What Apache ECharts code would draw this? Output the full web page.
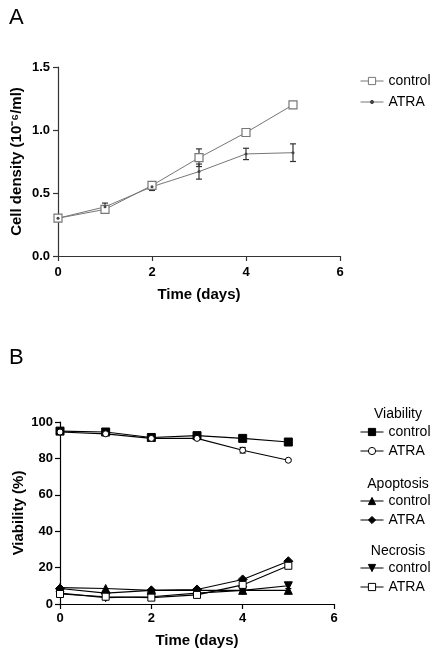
<!DOCTYPE html>
<html><head><meta charset="utf-8">
<script src="https://cdn.jsdelivr.net/npm/echarts@6/dist/echarts.min.js"></script>
<style>html,body{margin:0;padding:0;background:#fff}#c{width:442px;height:652px}</style>
</head><body><div id="c"></div>
<script>
// ---- Panel A data ----
const daysA = [0, 1, 2, 3, 4, 5];
const densityControl = [0.30, 0.37, 0.56, 0.78, 0.98, 1.20];
const densityControlErr = [0.01, 0.015, 0.02, 0.07, 0.02, 0.01];
const densityATRA = [0.30, 0.39, 0.55, 0.67, 0.81, 0.82];
const densityATRAErr = [0.01, 0.03, 0.03, 0.06, 0.045, 0.07];
const ticksA = [0, 0.5, 1.0, 1.5];

// ---- Panel B data ----
const daysB = [0, 1, 2, 3, 4, 5];
const viabControl = [95, 94.5, 91.5, 92.5, 91, 89];
const viabATRA = [94.5, 93.5, 91, 91, 84.5, 79];
const viabATRAErr = [0.5, 0.5, 0.5, 0.5, 1.5, 0.5];
const apopControl = [9, 8.5, 7.5, 7.5, 7.5, 7.5];
const apopATRA = [8.5, 6, 7.5, 8, 13.5, 23.5];
const necrControl = [6, 3.5, 4, 6, 7.5, 10];
const necrControlErr = [0.5, 1, 1, 0.5, 0.5, 1.5];
const necrATRA = [5.5, 4, 3.5, 5, 10.5, 21];

const pts = (xs, ys) => xs.map((x, i) => [x, ys[i]]);
const errs = (xs, ys, es) => xs.map((x, i) => [x, ys[i] - es[i], ys[i] + es[i]]);

function errSeries(data, xi, yi, color) {
  return {
    type: 'custom', xAxisIndex: xi, yAxisIndex: yi, silent: true, z: 1,
    data: data,
    renderItem: function (params, api) {
      const lo = api.coord([api.value(0), api.value(1)]);
      const hi = api.coord([api.value(0), api.value(2)]);
      const w = 3;
      const st = { stroke: color, lineWidth: 1.2 };
      return { type: 'group', children: [
        { type: 'line', shape: { x1: lo[0], y1: lo[1], x2: hi[0], y2: hi[1] }, style: st },
        { type: 'line', shape: { x1: lo[0] - w, y1: lo[1], x2: lo[0] + w, y2: lo[1] }, style: st },
        { type: 'line', shape: { x1: hi[0] - w, y1: hi[1], x2: hi[0] + w, y2: hi[1] }, style: st }
      ]};
    }
  };
}

const FONT = 'Liberation Sans, Arial, sans-serif';
const gA = '#777';
const gAxisA = '#333';

function xAxisCfg(gi, color, margin, gap) {
  return {
    type: 'value', gridIndex: gi, min: 0, max: 6, interval: 2,
    name: 'Time (days)', nameLocation: 'middle', nameGap: gap,
    nameTextStyle: { fontFamily: FONT, fontWeight: 'bold', fontSize: 15, color: '#000' },
    axisLine: { lineStyle: { color: color, width: 1.2 } },
    axisTick: { show: true, length: 5, lineStyle: { color: color, width: 1.2 } },
    axisLabel: { fontFamily: FONT, fontWeight: 'bold', fontSize: 13, color: '#000', margin: margin },
    splitLine: { show: false }
  };
}

function legendCfg(names, top, itemHeight) {
  return { data: names, orient: 'vertical', left: 355, top: top, itemGap: 5, itemWidth: 23, itemHeight: itemHeight,
    formatter: n => n.split(' ')[1],
    lineStyle: { width: 1 }, itemStyle: { borderWidth: 1 },
    textStyle: { fontFamily: FONT, fontSize: 14, color: '#000' } };
}

const lineCommon = { type: 'line', showSymbol: true, z: 3 };
const headStyle = { fontFamily: FONT, fontWeight: 'normal', fontSize: 14, color: '#000' };

const option = {
  animation: false,
  backgroundColor: '#fff',
  textStyle: { fontFamily: FONT },
  title: [
    { text: 'A', left: 4, top: 2, textStyle: { fontFamily: FONT, fontWeight: 'normal', fontSize: 22, color: '#000' } },
    { text: 'B', left: 4, top: 342, textStyle: { fontFamily: FONT, fontWeight: 'normal', fontSize: 22, color: '#000' } },
    { text: 'Viability', left: 393, top: 402, textAlign: 'center', textStyle: headStyle },
    { text: 'Apoptosis', left: 393, top: 472, textAlign: 'center', textStyle: headStyle },
    { text: 'Necrosis', left: 393, top: 539, textAlign: 'center', textStyle: headStyle }
  ],
  legend: [
    legendCfg(['A control'], 69, 9),
    legendCfg(['A ATRA'], 90, 4),
    legendCfg(['Viability control', 'Viability ATRA'], 420, 9),
    legendCfg(['Apoptosis control', 'Apoptosis ATRA'], 489, 9),
    legendCfg(['Necrosis control', 'Necrosis ATRA'], 556, 9)
  ],
  grid: [
    { left: 58, top: 67, width: 282, height: 189, outerBoundsMode: 'none', containLabel: false },
    { left: 60, top: 422, width: 274, height: 182, outerBoundsMode: 'none', containLabel: false }
  ],
  xAxis: [ xAxisCfg(0, gAxisA, 10, 31), xAxisCfg(1, '#000', 8, 29) ],
  yAxis: [
    { type: 'value', gridIndex: 0, min: 0, max: 1.5, interval: 0.5,
      name: 'Cell density (10\u207B\u2076/ml)', nameLocation: 'middle', nameGap: 34, nameMoveOverlap: false,
      nameTextStyle: { fontFamily: FONT, fontWeight: 'bold', fontSize: 15, color: '#000' },
      axisLine: { show: true, lineStyle: { color: gAxisA, width: 1.2 } },
      axisTick: { show: true, length: 5, lineStyle: { color: gAxisA, width: 1.2 } },
      axisLabel: { fontFamily: FONT, fontWeight: 'bold', fontSize: 13, color: '#000', margin: 8, formatter: v => v.toFixed(1) },
      splitLine: { show: false } },
    { type: 'value', gridIndex: 1, min: 0, max: 100, interval: 20,
      name: 'Viability (%)', nameLocation: 'middle', nameGap: 34, nameMoveOverlap: false,
      nameTextStyle: { fontFamily: FONT, fontWeight: 'bold', fontSize: 15, color: '#000' },
      axisLine: { show: true, lineStyle: { color: '#000', width: 1.2 } },
      axisTick: { show: true, length: 5, lineStyle: { color: '#000', width: 1.2 } },
      axisLabel: { fontFamily: FONT, fontWeight: 'bold', fontSize: 13, color: '#000', margin: 7 },
      splitLine: { show: false } }
  ],
  series: [
    errSeries(errs(daysA, densityControl, densityControlErr), 0, 0, '#333'),
    errSeries(errs(daysA, densityATRA, densityATRAErr), 0, 0, '#333'),
    Object.assign({}, lineCommon, { name: 'A control', xAxisIndex: 0, yAxisIndex: 0, data: pts(daysA, densityControl),
      symbol: 'rect', symbolSize: 8, itemStyle: { color: '#fff', borderColor: gA, borderWidth: 1.2 },
      lineStyle: { color: gA, width: 1 } }),
    Object.assign({}, lineCommon, { name: 'A ATRA', xAxisIndex: 0, yAxisIndex: 0, data: pts(daysA, densityATRA),
      symbol: 'circle', symbolSize: 3, itemStyle: { color: '#444', borderColor: '#444', borderWidth: 0 },
      lineStyle: { color: gA, width: 1 } }),

    errSeries(errs(daysB, viabATRA, viabATRAErr), 1, 1, '#000'),
    errSeries(errs(daysB, necrControl, necrControlErr), 1, 1, '#000'),
    Object.assign({}, lineCommon, { name: 'Viability control', xAxisIndex: 1, yAxisIndex: 1, data: pts(daysB, viabControl),
      symbol: 'rect', symbolSize: 8, itemStyle: { color: '#000', borderColor: '#000' }, lineStyle: { color: '#000', width: 1.1 } }),
    Object.assign({}, lineCommon, { name: 'Viability ATRA', xAxisIndex: 1, yAxisIndex: 1, data: pts(daysB, viabATRA),
      symbol: 'circle', symbolSize: 6, itemStyle: { color: '#fff', borderColor: '#000', borderWidth: 1 }, lineStyle: { color: '#000', width: 1.1 } }),
    Object.assign({}, lineCommon, { name: 'Apoptosis control', xAxisIndex: 1, yAxisIndex: 1, data: pts(daysB, apopControl),
      symbol: 'triangle', symbolSize: 8, itemStyle: { color: '#000', borderColor: '#000' }, lineStyle: { color: '#000', width: 1.1 } }),
    Object.assign({}, lineCommon, { name: 'Apoptosis ATRA', xAxisIndex: 1, yAxisIndex: 1, data: pts(daysB, apopATRA),
      symbol: 'diamond', symbolSize: 9, itemStyle: { color: '#000', borderColor: '#000' }, lineStyle: { color: '#000', width: 1.1 } }),
    Object.assign({}, lineCommon, { name: 'Necrosis control', xAxisIndex: 1, yAxisIndex: 1, data: pts(daysB, necrControl),
      symbol: 'triangle', symbolRotate: 180, symbolSize: 8, itemStyle: { color: '#000', borderColor: '#000' }, lineStyle: { color: '#000', width: 1.1 } }),
    Object.assign({}, lineCommon, { name: 'Necrosis ATRA', xAxisIndex: 1, yAxisIndex: 1, data: pts(daysB, necrATRA),
      symbol: 'rect', symbolSize: 7, itemStyle: { color: '#fff', borderColor: '#000', borderWidth: 1 }, lineStyle: { color: '#000', width: 1.1 } })
  ]
};

const chart = echarts.init(document.getElementById('c'), null, { renderer: 'canvas' });
chart.setOption(option);
</script>
</body></html>
